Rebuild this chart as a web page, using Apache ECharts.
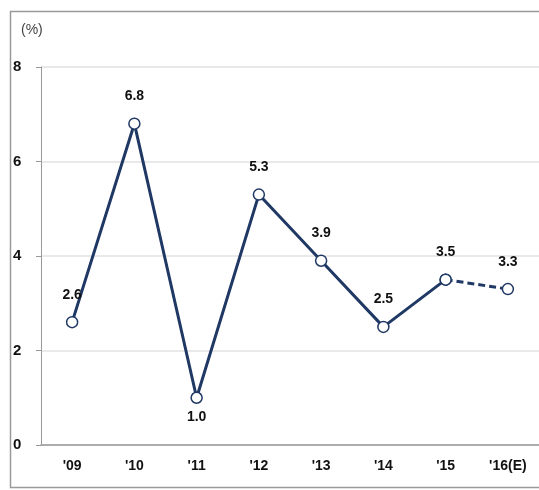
<!DOCTYPE html>
<html>
<head>
<meta charset="utf-8">
<style>
  html, body { margin: 0; padding: 0; background: #fff; overflow: hidden; }
  #chart { width: 539px; height: 490px; }
</style>
<script src="https://cdn.jsdelivr.net/npm/echarts@6/dist/echarts.min.js"></script>
</head>
<body>
<div id="chart"></div>
<script>
// Annual growth rate (%), 2016 is an estimate
const years = ["'09", "'10", "'11", "'12", "'13", "'14", "'15", "'16(E)"];
const growth = [2.6, 6.8, 1.0, 5.3, 3.9, 2.5, 3.5, 3.3];
const yTicks = [0, 2, 4, 6, 8];

const lastActual = 6; // index of the last non-estimated year
const actual = growth.map((v, i) => (i <= lastActual ? v : '-'));
const estimate = growth.map((v, i) => (i >= lastActual ? v : '-'));

const lineColor = '#1f3864';
const labelFont = { fontFamily: 'Liberation Sans', fontWeight: 'bold', fontSize: 14, color: '#111' };

const chart = echarts.init(document.getElementById('chart'));
chart.setOption({
  animation: false,
  backgroundColor: '#fff',
  graphic: [
    {
      // open frame: top, left and bottom edges
      type: 'polyline',
      shape: { points: [[560, 11.5], [10.5, 11.5], [10.5, 487.5], [560, 487.5]] },
      style: { fill: null, stroke: '#9a9a9a', lineWidth: 1.5 },
      z: 0
    },
    {
      type: 'text',
      left: 21, top: 23,
      style: { text: '(%)', font: '14px "Liberation Sans"', fill: '#444' }
    }
  ],
  grid: { left: 41, top: 67, width: 500, height: 378 },
  xAxis: {
    type: 'category',
    data: years,
    boundaryGap: true,
    axisLine: { lineStyle: { color: '#999', width: 1.5 } },
    axisTick: { show: false },
    axisLabel: { margin: 14, ...labelFont, fontSize: 14 }
  },
  yAxis: {
    type: 'value',
    min: yTicks[0],
    max: yTicks[yTicks.length - 1],
    interval: 2,
    axisLine: { show: true, lineStyle: { color: '#999', width: 1 } },
    axisTick: { show: true, length: 5, lineStyle: { color: '#999' } },
    splitLine: { lineStyle: { color: '#e2e2e2', width: 1.5 } },
    axisLabel: { margin: 28, align: 'left', ...labelFont, fontSize: 15 }
  },
  series: [
    {
      type: 'line',
      data: actual,
      symbol: 'circle',
      symbolSize: 11,
      lineStyle: { color: lineColor, width: 3 },
      itemStyle: { color: '#fff', borderColor: lineColor, borderWidth: 1.5 },
      label: {
        show: true,
        distance: 14,
        formatter: p => p.value.toFixed(1),
        ...labelFont
      },
      z: 3
    },
    {
      type: 'line',
      data: estimate,
      symbol: 'circle',
      symbolSize: 11,
      lineStyle: { color: lineColor, width: 3, type: [7, 4] },
      itemStyle: { color: '#fff', borderColor: lineColor, borderWidth: 1.5 },
      label: {
        show: true,
        distance: 14,
        formatter: p => (p.dataIndex > lastActual ? p.value.toFixed(1) : ''),
        ...labelFont
      },
      z: 2
    }
  ]
});

// Put the label of the lowest point beneath its marker
const minIdx = growth.indexOf(Math.min(...growth));
chart.setOption({
  series: [{
    data: actual.map((v, i) => (i === minIdx ? { value: v, label: { position: 'bottom', distance: 6 } } : v))
  }]
});
</script>
</body>
</html>
